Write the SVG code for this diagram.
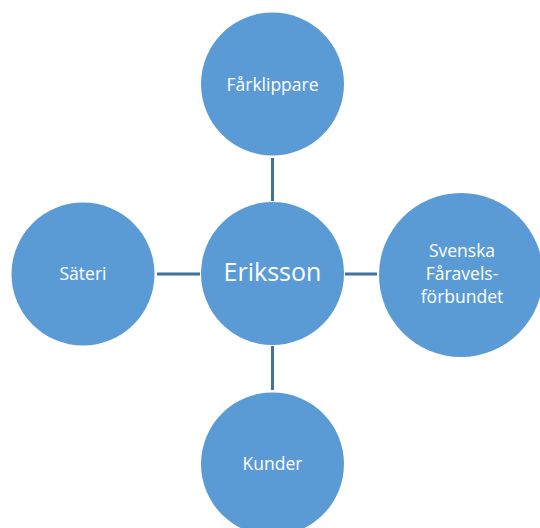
<svg xmlns="http://www.w3.org/2000/svg" width="540" height="528" viewBox="0 0 540 528">
  <style>
    .node { fill: #5B9BD5; }
    .link { stroke: #41719C; stroke-width: 3; fill: none; }
    .label { fill: #ffffff; font-family: "Open Sans", "Noto Sans", "Liberation Sans", sans-serif; font-size: 17.5px; text-anchor: middle; }
    .hub { font-size: 25px; }
  </style>
  <rect width="540" height="528" fill="#ffffff"/>
  <g id="connectors">
    <line class="link" x1="272.5" y1="158" x2="272.5" y2="201"/>
    <line class="link" x1="157" y1="274" x2="200" y2="274"/>
    <line class="link" x1="345" y1="274" x2="377" y2="274"/>
    <line class="link" x1="272.5" y1="346" x2="272.5" y2="390"/>
  </g>
  <g id="node-farklippare">
    <circle class="node" cx="272.5" cy="84" r="71.5"/>
    <text class="label" x="272.5" y="91">Fårklippare</text>
  </g>
  <g id="node-sateri">
    <circle class="node" cx="83" cy="274" r="71.5"/>
    <text class="label" x="83" y="280">Säteri</text>
  </g>
  <g id="node-eriksson">
    <circle class="node" cx="272.5" cy="273.5" r="71.5"/>
    <text class="label hub" x="272.5" y="281">Eriksson</text>
  </g>
  <g id="node-faravelsforbundet">
    <circle class="node" cx="461" cy="275" r="82"/>
    <text class="label" x="462" y="257">Svenska</text>
    <text class="label" x="462" y="280">Fåravels-</text>
    <text class="label" x="462" y="303">förbundet</text>
  </g>
  <g id="node-kunder">
    <circle class="node" cx="272.5" cy="464" r="71.5"/>
    <text class="label" x="272.5" y="470">Kunder</text>
  </g>
</svg>
